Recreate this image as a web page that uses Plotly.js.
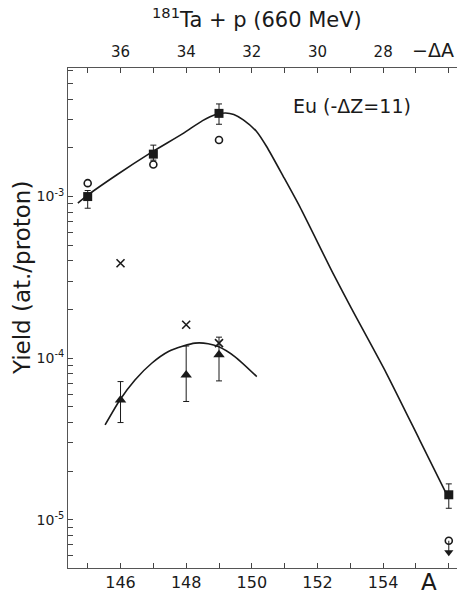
<!DOCTYPE html>
<html>
<head>
<meta charset="utf-8">
<script src="https://cdn.plot.ly/plotly-3.0.1.min.js"></script>
<style>html,body{margin:0;padding:0;background:#fff;}#chart{width:457px;height:594px;}</style>
</head>
<body>
<div id="chart"></div>
<script>
// ---- data ----
// filled squares (measured yields)
var sqA     = [145, 147, 149, 156];
var sqY     = [1.0e-3, 1.83e-3, 3.27e-3, 1.43e-5];
var sqHi    = [1.09e-3, 2.08e-3, 3.74e-3, 1.67e-5];
var sqLo    = [8.47e-4, 1.68e-3, 2.80e-3, 1.18e-5];
// open circles
var circA   = [145, 147, 149];
var circY   = [1.21e-3, 1.58e-3, 2.24e-3];
// open circle upper limit at A=156
var limA    = [156];
var limY    = [7.43e-6];
var limArrowY = [6.3e-6];
// crosses
var crossA  = [146, 148, 149];
var crossY  = [3.87e-4, 1.61e-4, 1.24e-4];
// filled triangles
var triA    = [146, 148, 149];
var triY    = [5.52e-5, 7.88e-5, 1.05e-4];
var triHi   = [7.17e-5, 1.19e-4, 1.35e-4];
var triLo   = [4.0e-5, 5.4e-5, 7.24e-5];
// upper fitted curve
var curve1A = [144.70, 144.94, 145.88, 146.89, 147.91, 148.50, 148.90, 149.20, 149.45, 149.74, 150.15, 150.45, 150.96, 151.46, 152.47, 153.03, 154.10, 155.11, 155.92];
var curve1Y = [9.1e-4, 1.0e-3, 1.36e-3, 1.85e-3, 2.46e-3, 2.95e-3, 3.22e-3, 3.29e-3, 3.22e-3, 2.98e-3, 2.52e-3, 2.04e-3, 1.33e-3, 8.66e-4, 3.36e-4, 2.04e-4, 8.07e-5, 3.13e-5, 1.46e-5];
// lower fitted curve
var curve2A = [145.53, 145.98, 146.44, 146.95, 147.46, 147.91, 148.27, 148.67, 148.98, 149.49, 150.15];
var curve2Y = [3.87e-5, 5.52e-5, 7.34e-5, 9.31e-5, 1.10e-4, 1.19e-4, 1.24e-4, 1.23e-4, 1.18e-4, 1.02e-4, 7.7e-5];
// axis ticks
var xTickVals = [145,146,147,148,149,150,151,152,153,154,155,156];
var xTickText = ['','146','','148','','150','','152','','154','',''];
var dATickVals = [26,27,28,29,30,31,32,33,34,35,36,37];
var dATickText = ['','','28','','30','','32','','34','','36',''];
var yDecadeExp = [-6, -5, -4, -3];
var yLabeledExp = [-5, -4, -3];

// ---- build ----
var FONT = 'DejaVu Sans, Liberation Sans, sans-serif';
var INK = '#1a1a1a';

function diff(a, b){ return a.map(function(v,i){ return v - b[i]; }); }

var yTickVals = [], yTickText = [];
yDecadeExp.forEach(function(e){
  for (var m = 1; m <= 9; m++){
    yTickVals.push(m * Math.pow(10, e));
    yTickText.push(m === 1 && yLabeledExp.indexOf(e) >= 0 ? '10<sup>' + e + '</sup>' : ' ');
  }
});

var traces = [
  {x: curve1A, y: curve1Y, mode: 'lines', line: {color: INK, width: 1.6, shape: 'spline', smoothing: 0.6}, hoverinfo: 'skip'},
  {x: curve2A, y: curve2Y, mode: 'lines', line: {color: INK, width: 1.6, shape: 'spline', smoothing: 0.6}, hoverinfo: 'skip'},
  {x: sqA, y: sqY, mode: 'markers', marker: {symbol: 'square', size: 9, color: INK},
   error_y: {type: 'data', symmetric: false, array: diff(sqHi, sqY), arrayminus: diff(sqY, sqLo), color: INK, thickness: 1, width: 3}},
  {x: circA, y: circY, mode: 'markers', marker: {symbol: 'circle-open', size: 7, color: INK, line: {width: 1.6, color: INK}}},
  {x: [limA[0], limA[0]], y: [limY[0], limArrowY[0]], mode: 'lines', line: {color: INK, width: 1}},
  {x: limA, y: limY, mode: 'markers', marker: {symbol: 'circle-open', size: 7, color: INK, line: {width: 1.6, color: INK}}},
  {x: limA, y: limArrowY, mode: 'markers', marker: {symbol: 'triangle-down', size: 8, color: INK}},
  {x: crossA, y: crossY, mode: 'markers', marker: {symbol: 'x-thin-open', size: 8, color: INK, line: {width: 1.6, color: INK}}},
  {x: triA, y: triY, mode: 'markers', marker: {symbol: 'triangle-up', size: 10, color: INK},
   error_y: {type: 'data', symmetric: false, array: diff(triHi, triY), arrayminus: diff(triY, triLo), color: INK, thickness: 1, width: 3}},
  {x: [30], y: [1e-4], xaxis: 'x2', mode: 'markers', marker: {opacity: 0}, hoverinfo: 'skip'}
];

var layout = {
  width: 457, height: 594,
  margin: {l: 68, r: 0, t: 68, b: 26},
  paper_bgcolor: '#fff', plot_bgcolor: '#fff',
  showlegend: false,
  font: {family: FONT, color: INK},
  xaxis: {
    range: [144.4, 156.25], tickmode: 'array', tickvals: xTickVals, ticktext: xTickText,
    ticks: 'inside', ticklen: 5, tickwidth: 1, tickcolor: '#444',
    showline: true, linecolor: '#555', linewidth: 1, showgrid: false, zeroline: false,
    tickfont: {size: 16, family: FONT, color: INK}
  },
  xaxis2: {
    overlaying: 'x', side: 'top', anchor: 'y',
    range: [182 - 144.4, 182 - 156.25], tickmode: 'array', tickvals: dATickVals, ticktext: dATickText,
    ticks: 'inside', ticklen: 5, tickwidth: 1, tickcolor: '#444',
    showline: true, linecolor: '#555', linewidth: 1, showgrid: false, zeroline: false,
    tickfont: {size: 15, family: FONT, color: INK}, ticklabelstandoff: 4
  },
  yaxis: {
    type: 'log', range: [Math.log10(5.04e-6), Math.log10(6.24e-3)],
    tickmode: 'array', tickvals: yTickVals, ticktext: yTickText,
    ticks: 'inside', ticklen: 5, tickwidth: 1, tickcolor: '#444',
    showline: true, linecolor: '#555', linewidth: 1, showgrid: false, zeroline: false,
    tickfont: {size: 14, family: FONT, color: INK}
  },
  annotations: [
    {text: '<sup>181</sup>Ta + p (660 MeV)', xref: 'paper', yref: 'paper', x: 0.486, y: 1.10,
     xanchor: 'center', yanchor: 'middle', showarrow: false, font: {size: 21, family: FONT, color: INK}},
    {text: '\u2212\u0394A', xref: 'paper', yref: 'paper', x: 0.997, y: 1.036,
     xanchor: 'right', yanchor: 'middle', showarrow: false, font: {size: 19, family: FONT, color: INK}},
    {text: 'A', xref: 'paper', yref: 'paper', x: 0.928, y: -0.028,
     xanchor: 'center', yanchor: 'middle', showarrow: false, font: {size: 23, family: FONT, color: INK}},
    {text: 'Eu (-\u0394Z=11)', xref: 'paper', yref: 'paper', x: 0.730, y: 0.924,
     xanchor: 'center', yanchor: 'middle', showarrow: false, font: {size: 19, family: FONT, color: INK}},
    {text: 'Yield (at./proton)', xref: 'paper', yref: 'paper', x: -0.118, y: 0.58, textangle: -90,
     xanchor: 'center', yanchor: 'middle', showarrow: false, font: {size: 23, family: FONT, color: INK}}
  ]
};

Plotly.newPlot('chart', traces, layout, {displayModeBar: false, staticPlot: true});
</script>
</body>
</html>
